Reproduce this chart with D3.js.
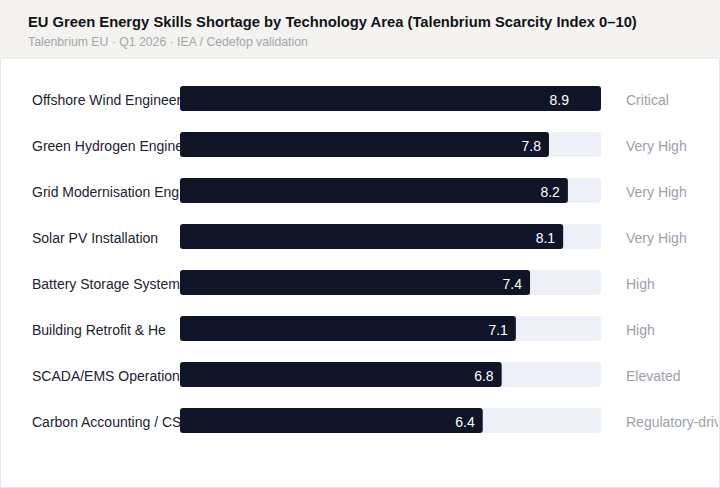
<!DOCTYPE html>
<html>
<head>
<meta charset="utf-8">
<script src="https://cdn.jsdelivr.net/npm/d3@7"></script>
<style>
  body { margin: 0; background: #fff; }
  svg { display: block; font-family: "Liberation Sans", Arial, sans-serif; }
</style>
</head>
<body>
<div class="chart"></div>
<script>
const areas = [
  "Offshore Wind Engineering",
  "Green Hydrogen Engineering",
  "Grid Modernisation Engineering",
  "Solar PV Installation",
  "Battery Storage Systems",
  "Building Retrofit & Heat Pumps",
  "SCADA/EMS Operations",
  "Carbon Accounting / CSRD"
]
const scores = [8.9, 7.8, 8.2, 8.1, 7.4, 7.1, 6.8, 6.4]
const tiers = ["Critical", "Very High", "Very High", "Very High", "High", "High", "Elevated", "Regulatory-driven"]

const data = areas.map((a, i) => ({area: a, score: scores[i], tier: tiers[i]}))

const width = 720, height = 488
const headerH = 58

const svg = d3.select(".chart").append("svg")
  .attr("width", width)
  .attr("height", height)

// header band
svg.append("rect")
  .attr("x", 0).attr("y", 0)
  .attr("width", width).attr("height", headerH)
  .attr("fill", "#f4f3f0")

svg.append("text")
  .attr("x", 28).attr("y", 27)
  .attr("font-size", 14.75)
  .attr("font-weight", "bold")
  .attr("fill", "#111318")
  .text("EU Green Energy Skills Shortage by Technology Area (Talenbrium Scarcity Index 0\u201310)")

svg.append("text")
  .attr("x", 28).attr("y", 46)
  .attr("font-size", 12.25)
  .attr("fill", "#a3a6ad")
  .text("Talenbrium EU \u00b7 Q1 2026 \u00b7 IEA / Cedefop validation")

// panel
svg.append("rect")
  .attr("x", 0.5).attr("y", headerH)
  .attr("width", width - 1).attr("height", height - headerH - 0.5)
  .attr("fill", "#fff")
  .attr("stroke", "#e3e5ea")

svg.append("clipPath").attr("id", "panel-clip")
  .append("rect")
  .attr("x", 0).attr("y", headerH)
  .attr("width", width - 2).attr("height", height - headerH)

const x = d3.scaleLinear()
  .domain([0, d3.max(scores)])
  .range([180, 601])

const y = d3.scaleBand()
  .domain(areas)
  .range([65, 454])
  .padding(0.4565)

const rows = svg.append("g")
  .attr("clip-path", "url(#panel-clip)")
  .selectAll("g")
  .data(data)
  .join("g")

// category labels (truncated, bars drawn over)
rows.append("text")
  .attr("x", 32)
  .attr("y", d => y(d.area) + y.bandwidth() / 2)
  .attr("dy", "0.48em")
  .attr("font-size", 14)
  .attr("fill", "#1d2330")
  .text(d => d.area.slice(0, 22))

rows.append("rect")
  .attr("class", "track")
  .attr("x", x(0))
  .attr("y", d => y(d.area))
  .attr("width", x.range()[1] - x(0))
  .attr("height", y.bandwidth())
  .attr("rx", 3)
  .attr("fill", "#edf0f6")

rows.append("rect")
  .attr("class", "bar")
  .attr("x", x(0))
  .attr("y", d => y(d.area))
  .attr("width", d => x(d.score) - x(0))
  .attr("height", y.bandwidth())
  .attr("rx", 3)
  .attr("fill", "#0f1427")

rows.append("text")
  .attr("x", d => Math.min(x(d.score), x.range()[1] - 24) - 8)
  .attr("y", d => y(d.area) + y.bandwidth() / 2)
  .attr("dy", "0.48em")
  .attr("text-anchor", "end")
  .attr("font-size", 14)
  .attr("fill", "#ffffff")
  .text(d => d.score.toFixed(1))

rows.append("text")
  .attr("x", 626)
  .attr("y", d => y(d.area) + y.bandwidth() / 2)
  .attr("dy", "0.48em")
  .attr("font-size", 14)
  .attr("fill", "#9ca1ab")
  .text(d => d.tier)
</script>
</body>
</html>
